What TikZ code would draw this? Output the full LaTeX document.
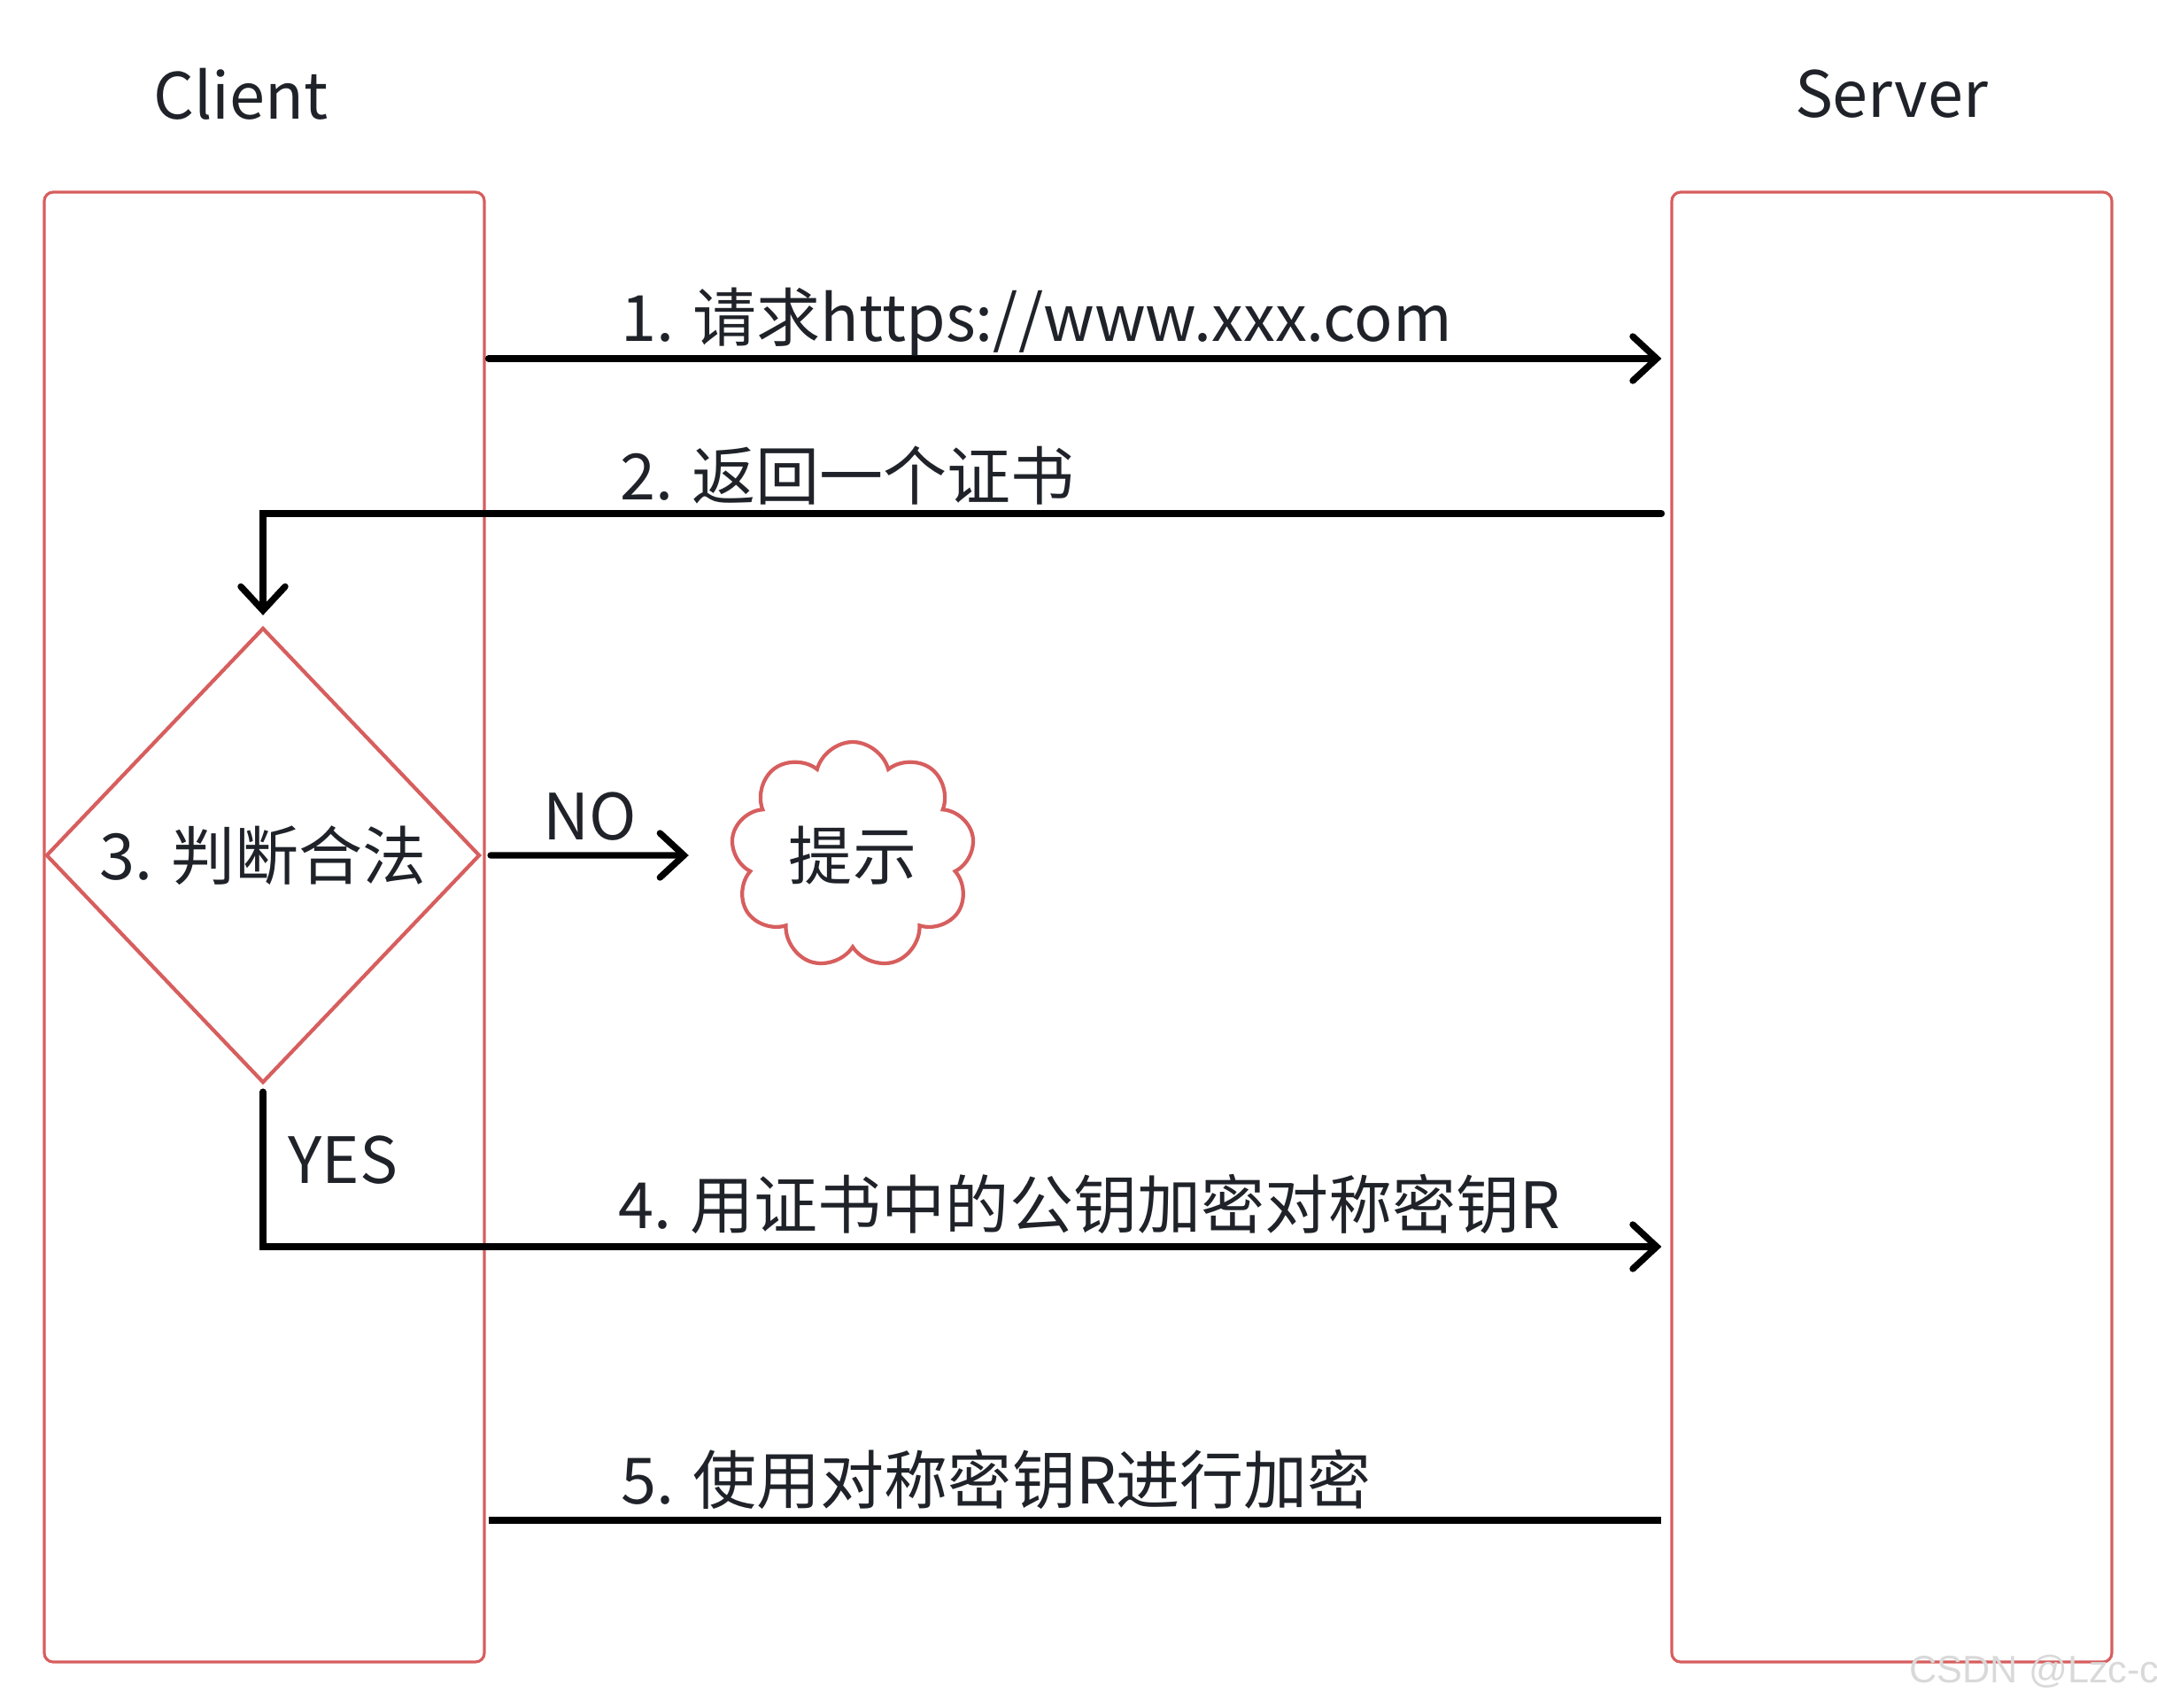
\documentclass[tikz,border=0pt]{standalone}
\usepackage{fontspec}
\setmainfont{Noto Sans CJK SC}
\newfontfamily\wmfont{Liberation Sans}
\usetikzlibrary{arrows.meta,shapes.geometric,shapes.symbols}
\definecolor{boxred}{RGB}{215,94,94}
\definecolor{inkdark}{RGB}{31,35,41}
\tikzset{
  lane/.style={draw=boxred, line width=0.9pt, rounded corners=0.1cm, minimum width=4.97cm, minimum height=16.6cm},
  flow/.style={line width=2.1pt, line cap=round, -{Straight Barb[length=2.7mm,width=5mm,line cap=round]}},
  lbl/.style={text=inkdark, font=\fontsize{20.5}{24}\selectfont, inner sep=0pt}
}
\begin{document}
\begin{tikzpicture}[x=1cm, y=1cm]
  \useasboundingbox (0,0) rectangle (24.36,-19.28);
  % swim lanes
  \node (client) [lane] at (2.985,-10.47) {};
  \node (server) [lane] at (21.365,-10.47) {};
  \node (clienttitle) [lbl] at (2.72,-1.06) {Client};
  \node (servertitle) [lbl] at (21.36,-1.06) {Server};
  % decision and hint
  \node (check) [lbl, shape=diamond, draw=boxred, line width=1.2pt, minimum width=4.9cm, minimum height=5.14cm] at (2.97,-9.66) {3. 判断合法};
  \node (hint) [lbl, shape=cloud, cloud puffs=9, draw=boxred, line width=1.2pt, minimum width=2.75cm, minimum height=2.56cm] at (9.63,-9.66) {提示};
  \coordinate (y1) at (0,-4.05);
  \coordinate (y2) at (0,-5.80);
  \coordinate (y4) at (0,-14.08);
  \coordinate (y5) at (0,-17.17);
  % messages
  \draw[flow] ([xshift=0.03cm]client.east |- y1) -- ([xshift=-0.1cm]server.west |- y1)
    node[lbl, at start, anchor=base west, xshift=1.46cm, yshift=0.2cm] {1. 请求https://www.xxx.com};
  \draw[flow] ([xshift=-0.1cm]server.west |- y2) -| ([yshift=0.12cm]check.north)
    node[lbl, at start, anchor=base west, xshift=-11.8cm, yshift=0.16cm] {2. 返回一个证书};
  \draw[flow] ([xshift=0.1cm]check.east) -- ([xshift=-0.5cm]hint.west)
    node[lbl, midway, above=0.13cm] {NO};
  \draw[flow] ([yshift=-0.08cm]check.south) |- ([xshift=-0.1cm]server.west |- y4)
    node[lbl, pos=0.22, right=0.25cm] {YES};
  \path (client.east |- y4) -- (server.west |- y4)
    node[lbl, at start, anchor=base west, xshift=1.49cm, yshift=0.21cm] {4. 用证书中的公钥加密对称密钥R};
  \draw[line width=2.1pt] ([xshift=0.03cm]client.east |- y5) -- ([xshift=-0.1cm]server.west |- y5)
    node[lbl, at start, anchor=base west, xshift=1.46cm, yshift=0.19cm] {5. 使用对称密钥R进行加密};
  % watermark
  \node (mark) [text=black!15, font=\wmfont\fontsize{12.3}{15}\selectfont, anchor=west, inner sep=0pt] at (21.56,-18.88) {CSDN @Lzc-c};
\end{tikzpicture}
\end{document}
